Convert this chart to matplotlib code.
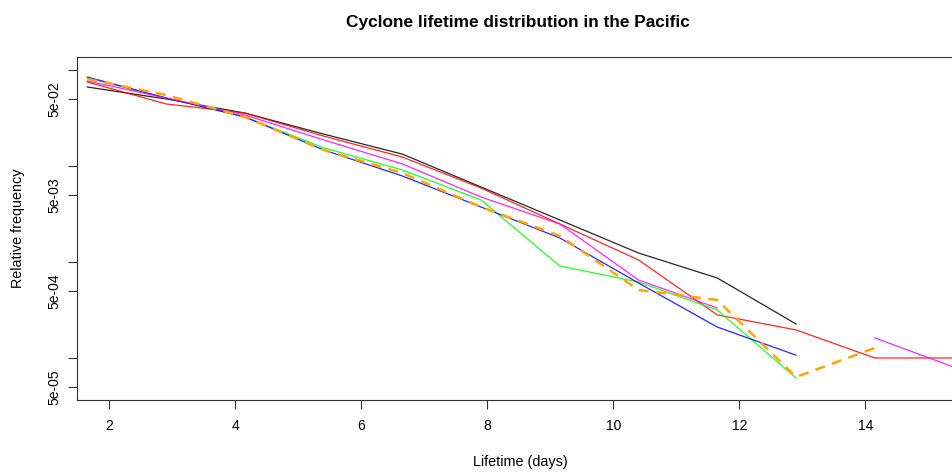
import numpy as np
import matplotlib
matplotlib.use("Agg")
import matplotlib.pyplot as plt

plt.rcParams['font.family'] = ['Liberation Sans', 'DejaVu Sans']

# Lifetime bins (days)
lifetime = [1.65, 2.9, 4.15, 5.4, 6.65, 7.9, 9.15, 10.4, 11.65, 12.9, 14.15, 15.4]

nan = np.nan
black_vals = [0.0665, 0.0499, 0.0356, 0.0215, 0.0133, 0.00604, 0.00274, 0.00124, 0.000681, 0.000226, nan, nan]
red_vals = [0.0750, 0.0443, 0.0356, 0.0205, 0.0124, 0.00590, 0.00249, 0.00105, 0.000281, 0.000196, 0.0001, 0.0001]
green_vals = [0.0825, 0.0511, 0.0324, 0.0155, 0.00909, 0.00443, 0.000909, 0.000619, 0.000316, 0.0000619, nan, nan]
blue_vals = [0.0845, 0.0511, 0.0324, 0.0147, 0.00787, 0.00374, 0.00178, 0.000604, 0.000210, 0.000107, nan, nan]
magenta_vals = [0.0768, 0.0511, 0.0340, 0.0187, 0.0105, 0.00475, 0.00249, 0.000649, 0.000332, nan, 0.000162, 0.0000806]
orange_vals = [0.0806, 0.0549, 0.0324, 0.0147, 0.00845, 0.00374, 0.00187, 0.000511, 0.000402, 0.0000634, 0.000127, nan]

ytick_pos = [1e-1, 5e-2, 1e-2, 5e-3, 1e-3, 5e-4, 1e-4, 5e-5]
ytick_lab = ["", "5e-02", "", "5e-03", "", "5e-04", "", "5e-05"]
xtick_pos = [2, 4, 6, 8, 10, 12, 14]

fig = plt.figure(figsize=(9.53, 4.73), dpi=100)
ax = fig.add_axes([77/953, (473-400)/473, (957-77)/953, (400-57)/473])

series = [
    (black_vals, '#000000'),
    (red_vals, '#FF0000'),
    (green_vals, '#00FF00'),
    (blue_vals, '#0000FF'),
    (magenta_vals, '#FF00FF'),
]
x = np.array(lifetime)
for vals, col in series:
    ax.plot(x, vals, color=col, linestyle='-', linewidth=0.9, alpha=0.85)
ax.plot(x, orange_vals, color='#FFA500', linestyle=(0, (4, 3)), linewidth=1.8)

ax.set_yscale('log')
ax.set_xlim(1.487, 15.455)
ax.set_ylim(3.65e-5, 0.1365)
ax.set_yticks(ytick_pos)
ax.set_yticklabels(ytick_lab, rotation=90, va='center')
ax.yaxis.set_minor_locator(matplotlib.ticker.NullLocator())
ax.set_xticks(xtick_pos)
ax.set_xticklabels([str(v) for v in xtick_pos])
ax.tick_params(axis='both', direction='out', length=6.5, width=0.8, labelsize=10, color='#333333')
ax.tick_params(axis='x', pad=7)
ax.tick_params(axis='y', pad=5)
for s in ax.spines.values():
    s.set_linewidth(0.8)
    s.set_color('#333333')

fig.text(18/953, 1 - 228/473, "Relative frequency", rotation=90, ha='center', va='center', fontsize=10.4)
fig.text(520/953, 1 - 462/473, "Lifetime (days)", ha='center', va='center', fontsize=10.4)
fig.text(518/953, 1 - 22/473, "Cyclone lifetime distribution in the Pacific", ha='center', va='center', fontsize=12.4, fontweight='bold')

fig.savefig("out.png", dpi=100)
